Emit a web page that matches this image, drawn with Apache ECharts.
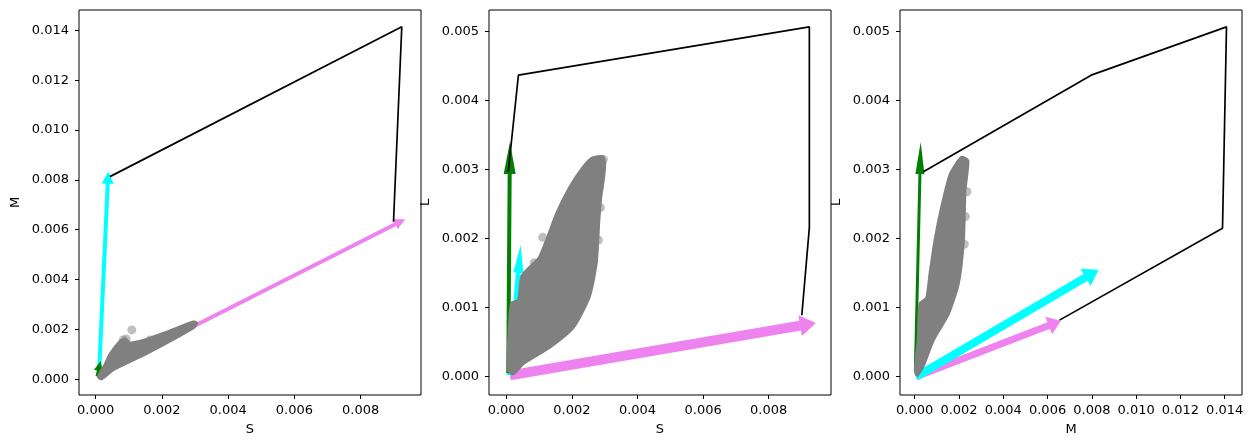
<!DOCTYPE html>
<html>
<head>
<meta charset="utf-8">
<script src="https://cdn.jsdelivr.net/npm/echarts@6/dist/echarts.min.js"></script>
<style>
html, body { margin: 0; padding: 0; background: #fff; }
#main { width: 1253px; height: 448px; }
</style>
</head>
<body>
<div id="main"></div>
<script>
// tick values
var ticksS = [0, 0.002, 0.004, 0.006, 0.008];
var ticksM = [0, 0.002, 0.004, 0.006, 0.008, 0.010, 0.012, 0.014];
var ticksL = [0, 0.001, 0.002, 0.003, 0.004, 0.005];

// panel 1 : S / M
var cloudSM = [[0.00008, 0.0001], [0.00028, 0.00058], [0.00043, 0.00100], [0.00073, 0.00151], [0.00089, 0.00162],
	[0.00104, 0.00146], [0.00154, 0.0016], [0.00214, 0.00189], [0.00295, 0.0023], [0.00305, 0.00226],
	[0.00295, 0.00207], [0.00154, 0.00104], [0.00053, 0.00039], [0.00018, 0.00002]];
var outlierSM = [[0.00109, 0.00198], [0.00083, 0.00158], [0.00164, 0.00158], [0.00092, 0.00162]];
var outlineSM = [[0.00043, 0.00813], [0.00924, 0.01414], [0.00899, 0.00632]];
var violetSM = [[0.0001, 0.0002, 0.00934, 0.00642]];
var cyanSM = [[0.0001, 0.0002, 0.00038, 0.00833]];
var greenSM = [[0.00004, 0.00012, 0.00015, 0.00073]];

// panel 2 : S / L
var cloudSL = [[0.00006, 0.0001], [0.00008, 0.0006], [0.00016, 0.00106], [0.00037, 0.00111], [0.00047, 0.00145],
	[0.00072, 0.00159], [0.001, 0.00172], [0.00123, 0.00198], [0.00154, 0.00237], [0.00194, 0.00275],
	[0.00235, 0.00304], [0.00262, 0.00317], [0.00294, 0.00319], [0.003, 0.0031], [0.00297, 0.0029],
	[0.00288, 0.0026], [0.00282, 0.00225], [0.00279, 0.00198], [0.00274, 0.00164], [0.00253, 0.00116],
	[0.00205, 0.00072], [0.00133, 0.00043], [0.00052, 0.00019], [0.00021, 0.00004]];
var outlierSL = [[0.00111, 0.00202], [0.00085, 0.00165], [0.00062, 0.00148], [0.00284, 0.00275],
	[0.00281, 0.00198], [0.00287, 0.00245], [0.00296, 0.00315]];
var outlineSL = [[0.00006, 0.00297], [0.00037, 0.00437], [0.00924, 0.00507], [0.00924, 0.00216], [0.00901, 0.00089]];
var violetSL = [[0.00011, 0.00002, 0.00944, 0.00078]];
var cyanSL = [[0.0001, 0.00002, 0.00044, 0.00191]];
var greenSL = [[0.00006, 0.00005, 0.00011, 0.0034]];

// panel 3 : M / L
var cloudML = [[0.00003, 0.00009], [0.00016, 0.00053], [0.00024, 0.00106], [0.00054, 0.00114], [0.00069, 0.00149],
	[0.00092, 0.00198], [0.00122, 0.00246], [0.0016, 0.00293], [0.00211, 0.00318], [0.0024, 0.00313],
	[0.00227, 0.0027], [0.0022, 0.00198], [0.00197, 0.00135], [0.00152, 0.00091], [0.00084, 0.00053],
	[0.00039, 0.00016], [0.00012, 0.00002]];
var outlierML = [[0.00236, 0.00268], [0.00229, 0.00232], [0.00224, 0.00192]];
var outlineML = [[0.00039, 0.00297], [0.00797, 0.00437], [0.01408, 0.00507], [0.0139, 0.00215], [0.00654, 0.00082]];
var violetML = [[0.00006, 0.0, 0.0066, 0.00081]];
var cyanML = [[0.00006, 0.0, 0.0083, 0.00155]];
var greenML = [[0.00003, 0.00009, 0.00027, 0.0034]];

var FONT = 'DejaVu Sans';
var chart = echarts.init(document.getElementById('main'));

function fmt(v) {
	return v.toFixed(3);
}

function makeAxis(idx, name, min, max, ticks, isY) {
	return {
		type: 'value',
		gridIndex: idx,
		min: min,
		max: max,
		name: name,
		nameLocation: 'middle',
		nameGap: isY ? 57 : 28,
		nameTextStyle: { fontFamily: FONT, fontSize: 13, color: '#000' },
		axisLine: { show: false, onZero: false },
		axisTick: { show: true, inside: false, length: 4, customValues: ticks, lineStyle: { color: '#000', width: 1 } },
		axisLabel: { customValues: ticks, formatter: fmt, fontFamily: FONT, fontSize: 13, color: '#000', margin: isY ? 10 : 9 },
		splitLine: { show: false }
	};
}

// arrow drawn as shaft + triangular head (sizes in px)
function arrowSeries(idx, data, color, width, headWidth, headLength) {
	return {
		type: 'custom',
		xAxisIndex: idx,
		yAxisIndex: idx,
		data: data,
		encode: { x: [0, 2], y: [1, 3] },
		clip: true,
		renderItem: function (params, api) {
			var p0 = api.coord([api.value(0), api.value(1)]);
			var p1 = api.coord([api.value(2), api.value(3)]);
			var dx = p1[0] - p0[0], dy = p1[1] - p0[1];
			var len = Math.sqrt(dx * dx + dy * dy);
			var ux = dx / len, uy = dy / len;
			var nx = -uy, ny = ux;
			var hl = Math.min(headLength, len);
			var bx = p1[0] - ux * hl, by = p1[1] - uy * hl;
			var w = width / 2, hw = headWidth / 2;
			var pts = [
				[p0[0] + nx * w, p0[1] + ny * w],
				[bx + nx * w, by + ny * w],
				[bx + nx * hw, by + ny * hw],
				p1,
				[bx - nx * hw, by - ny * hw],
				[bx - nx * w, by - ny * w],
				[p0[0] - nx * w, p0[1] - ny * w]
			];
			return { type: 'polygon', shape: { points: pts }, style: { fill: color } };
		}
	};
}

// dense point cloud: filled outline, rounded edge
function cloudSeries(idx, cloud) {
	return {
		type: 'custom',
		xAxisIndex: idx,
		yAxisIndex: idx,
		data: cloud,
		clip: true,
		renderItem: function (params, api) {
			if (params.dataIndex > 0) return;
			var pts = cloud.map(function (p) { return api.coord(p); });
			return {
				type: 'polygon',
				shape: { points: pts, smooth: 0.2 },
				style: { fill: '#808080', stroke: '#808080', lineWidth: 3, lineJoin: 'round' }
			};
		}
	};
}

function dotSeries(idx, data) {
	return {
		type: 'scatter',
		xAxisIndex: idx,
		yAxisIndex: idx,
		data: data,
		symbolSize: 9,
		itemStyle: { color: '#808080', opacity: 0.5 },
		silent: true
	};
}

function outlineSeries(idx, data) {
	return {
		type: 'line',
		xAxisIndex: idx,
		yAxisIndex: idx,
		data: data,
		symbol: 'none',
		lineStyle: { color: '#000', width: 1.7 }
	};
}

var gridBox = { show: true, borderColor: '#000', borderWidth: 1, backgroundColor: 'transparent', top: 10, width: 342, height: 385 };

var option = {
	animation: false,
	backgroundColor: '#fff',
	grid: [
		Object.assign({ left: 79 }, gridBox),
		Object.assign({ left: 489 }, gridBox),
		Object.assign({ left: 900 }, gridBox)
	],
	xAxis: [
		makeAxis(0, 'S', -0.000504, 0.00982, ticksS, false),
		makeAxis(1, 'S', -0.000527, 0.0099, ticksS, false),
		makeAxis(2, 'M', -0.000664, 0.01478, ticksM, false)
	],
	yAxis: [
		makeAxis(0, 'M', -0.00063, 0.014814, ticksM, true),
		makeAxis(1, 'L', -0.000265, 0.005314, ticksL, true),
		makeAxis(2, 'L', -0.000265, 0.005314, ticksL, true)
	],
	series: [
		outlineSeries(0, outlineSM),
		arrowSeries(0, violetSM, '#ee82ee', 4, 11, 11),
		arrowSeries(0, cyanSM, '#00ffff', 4, 12, 12),
		arrowSeries(0, greenSM, '#008000', 3, 9, 10),
		cloudSeries(0, cloudSM),
		dotSeries(0, outlierSM),

		outlineSeries(1, outlineSL),
		arrowSeries(1, violetSL, '#ee82ee', 10, 21, 16),
		arrowSeries(1, cyanSL, '#00ffff', 5, 10, 28),
		arrowSeries(1, greenSL, '#008000', 4, 12, 32),
		cloudSeries(1, cloudSL),
		dotSeries(1, outlierSL),

		outlineSeries(2, outlineML),
		arrowSeries(2, violetML, '#ee82ee', 7, 19, 13),
		arrowSeries(2, cyanML, '#00ffff', 8, 20, 15),
		arrowSeries(2, greenML, '#008000', 3, 9, 32),
		cloudSeries(2, cloudML),
		dotSeries(2, outlierML)
	]
};

chart.setOption(option);
</script>
</body>
</html>
